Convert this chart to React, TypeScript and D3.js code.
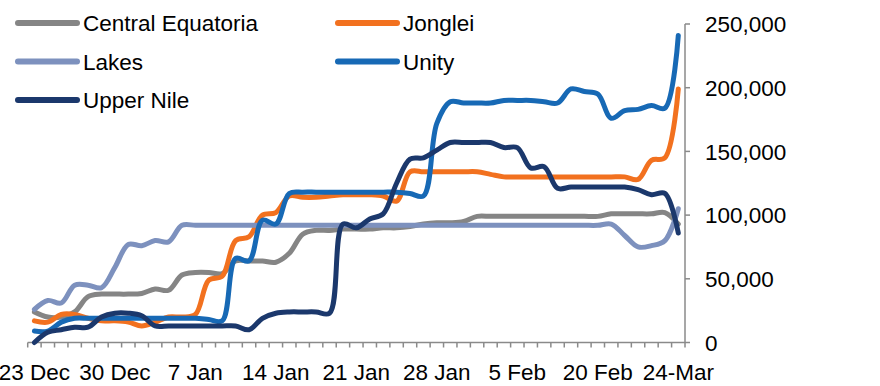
import { useEffect, useRef } from 'react';
import * as d3 from 'd3';

// thousands of people, one value per category (49 points)
const centralEquatoria = [
  24, 20, 20, 24, 36, 38, 38, 38, 38.5, 42, 41, 53, 55, 55, 54, 64, 64, 64, 63, 70,
  85, 88, 88, 89, 89, 89, 90, 90, 91, 93, 94, 94, 95, 99, 99, 99, 99, 99, 99, 99,
  99, 99, 99, 101, 101, 101, 101, 102, 93,
];
const jonglei = [
  17, 16, 22, 22, 19, 17, 17, 16, 13, 16, 20, 20, 22, 49, 52, 80, 83, 100, 102, 115,
  114, 114, 115, 116, 116, 116, 115, 111, 134, 134, 134, 134, 134, 134, 132, 130, 130, 130, 130, 130,
  130, 130, 130, 130, 130, 128, 143, 145, 199,
];
const lakes = [
  26, 33, 31, 45, 45, 43, 59, 77, 76, 80, 79, 92, 92, 92, 92, 92, 92, 92, 92, 92,
  92, 92, 92, 92, 92, 92, 92, 92, 92, 92, 92, 92, 92, 92, 92, 92, 92, 92, 92, 92,
  92, 92, 92, 93, 84, 75, 76, 80, 105,
];
const unity = [
  9, 9, 16, 19, 19, 19, 19, 19, 19, 19, 19, 19, 19, 18, 17, 66, 64, 96, 93, 117,
  118, 118, 118, 118, 118, 118, 118, 118, 117, 115, 172, 189, 188, 188, 188, 190, 190, 190, 189, 188,
  199, 197, 195, 176, 182, 183, 186, 184, 241,
];
const upperNile = [
  0, 8, 10, 12, 12, 20, 23, 23, 21, 13, 13, 13, 13, 13, 13, 13, 10, 19, 23, 24,
  24, 24, 23, 93, 90, 97, 101, 125, 144, 145, 151, 157, 157, 157, 157, 153, 153, 137, 138, 121,
  122, 122, 122, 122, 122, 120, 116, 117, 86,
];

const xTickLabels = ['23 Dec', '30 Dec', '7 Jan', '14 Jan', '21 Jan', '28 Jan', '5 Feb', '20 Feb', '24-Mar'];
const yTicks = [0, 50000, 100000, 150000, 200000, 250000];

const seriesNames = ['Central Equatoria', 'Jonglei', 'Lakes', 'Unity', 'Upper Nile'];
const seriesColors = ['#858585', '#F2711F', '#7D91BE', '#1769B5', '#1B386C'];
const seriesValues = [centralEquatoria, jonglei, lakes, unity, upperNile];

const FONT = '"Liberation Sans", Arial, sans-serif';

export default function App() {
  const svgRef = useRef<SVGSVGElement>(null);

  useEffect(() => {
    if (!svgRef.current) return;
    const svg = d3.select(svgRef.current);
    svg.selectAll('*').remove();

    const n = centralEquatoria.length;
    const x = d3.scaleBand<number>().domain(d3.range(n)).range([27.7, 685]);
    const cx = (i: number) => (x(i) as number) + x.bandwidth() / 2;
    const y = d3.scaleLinear().domain([0, 250000]).range([342.5, 24]);

    const axisColor = '#8a8a8a';

    // x axis line + tick marks between categories
    const xAxis = svg.append('g');
    xAxis.append('line')
      .attr('x1', 27.7).attr('x2', 685)
      .attr('y1', y(0)).attr('y2', y(0))
      .attr('stroke', axisColor).attr('stroke-width', 1.5);
    xAxis.selectAll('line.tick')
      .data(d3.range(n + 1))
      .join('line')
      .attr('class', 'tick')
      .attr('x1', (d) => 27.7 + d * x.step())
      .attr('x2', (d) => 27.7 + d * x.step())
      .attr('y1', y(0)).attr('y2', y(0) + 5)
      .attr('stroke', axisColor).attr('stroke-width', 1.5);
    xAxis.selectAll('text')
      .data(xTickLabels)
      .join('text')
      .attr('x', (_, k) => cx(k * 6))
      .attr('y', 379.5)
      .attr('text-anchor', 'middle')
      .attr('font-family', FONT)
      .attr('font-size', 22.5)
      .attr('fill', '#000')
      .text((d) => d);

    // y axis on the right
    const yAxis = svg.append('g');
    yAxis.append('line')
      .attr('x1', 685).attr('x2', 685)
      .attr('y1', y(250000)).attr('y2', y(0))
      .attr('stroke', axisColor).attr('stroke-width', 1.5);
    yAxis.selectAll('line.tick')
      .data(yTicks)
      .join('line')
      .attr('class', 'tick')
      .attr('x1', 685).attr('x2', 690)
      .attr('y1', (d) => y(d)).attr('y2', (d) => y(d))
      .attr('stroke', axisColor).attr('stroke-width', 1.5);
    yAxis.selectAll('text')
      .data(yTicks)
      .join('text')
      .attr('x', 705)
      .attr('y', (d) => y(d))
      .attr('dy', '0.36em')
      .attr('font-family', FONT)
      .attr('font-size', 22.5)
      .attr('fill', '#000')
      .text((d) => d3.format(',')(d));

    // lines
    const line = d3.line<number>()
      .x((_, i) => cx(i))
      .y((d) => y(d * 1000))
      .curve(d3.curveCatmullRom.alpha(0.5));

    svg.append('g')
      .selectAll('path')
      .data(seriesValues)
      .join('path')
      .attr('d', (d) => line(d))
      .attr('fill', 'none')
      .attr('stroke', (_, i) => seriesColors[i])
      .attr('stroke-width', 5)
      .attr('stroke-linejoin', 'round')
      .attr('stroke-linecap', 'round');

    // legend, two columns
    const legendPos = [
      { lx: 18, ly: 23 },
      { lx: 338, ly: 23 },
      { lx: 18, ly: 61.5 },
      { lx: 338, ly: 61.5 },
      { lx: 18, ly: 100 },
    ];
    const legend = svg.append('g')
      .selectAll('g')
      .data(seriesNames)
      .join('g')
      .attr('transform', (_, i) => `translate(${legendPos[i].lx},${legendPos[i].ly})`);
    legend.append('line')
      .attr('x1', 0).attr('x2', 59)
      .attr('stroke', (_, i) => seriesColors[i])
      .attr('stroke-width', 6)
      .attr('stroke-linecap', 'round');
    legend.append('text')
      .attr('x', 65)
      .attr('y', 8)
      .attr('font-family', FONT)
      .attr('font-size', 22.5)
      .attr('fill', '#000')
      .text((d) => d);
  }, []);

  return (
    <svg
      ref={svgRef}
      width={880}
      height={386}
      style={{ position: 'absolute', left: 0, top: 0, background: '#fff' }}
    />
  );
}
